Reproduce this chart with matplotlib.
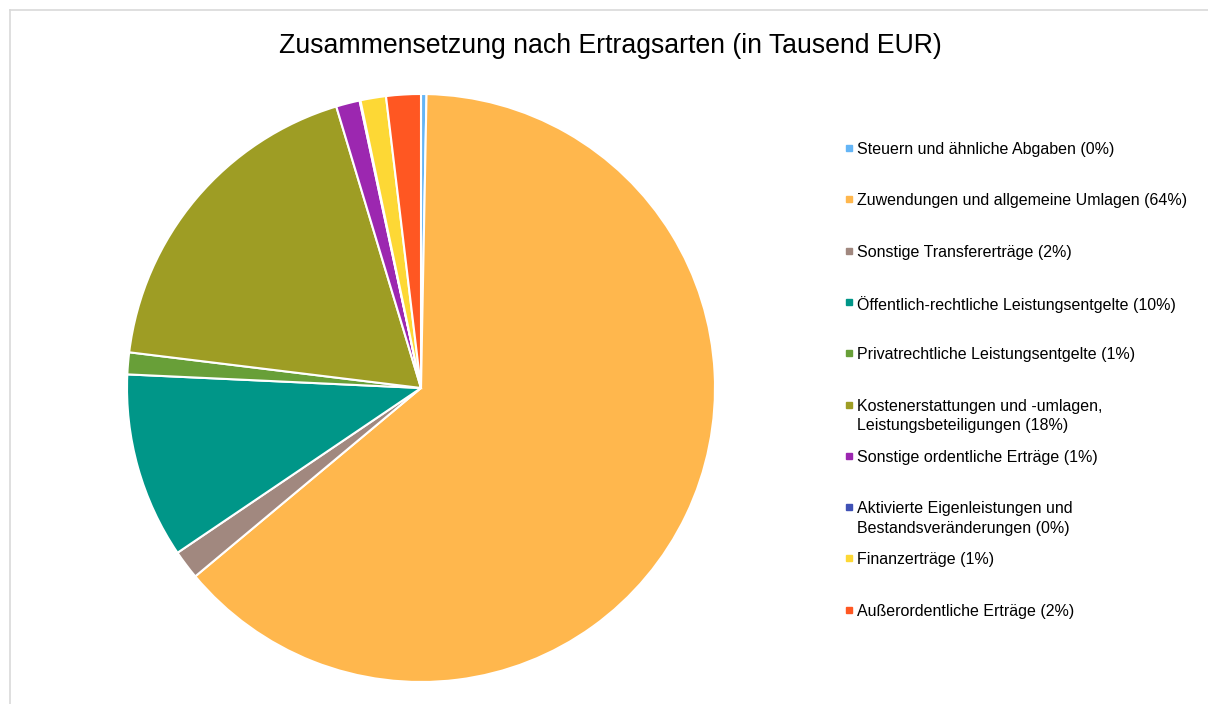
import matplotlib.pyplot as plt
from matplotlib.patches import Rectangle
from matplotlib.lines import Line2D

plt.rcParams['font.family'] = ['Liberation Sans', 'DejaVu Sans']

# Ertragsarten (Anteile)
labels = [
    'Steuern und ähnliche Abgaben (0%)',
    'Zuwendungen und allgemeine Umlagen (64%)',
    'Sonstige Transfererträge (2%)',
    'Öffentlich-rechtliche Leistungsentgelte (10%)',
    'Privatrechtliche Leistungsentgelte (1%)',
    'Kostenerstattungen und -umlagen,\nLeistungsbeteiligungen (18%)',
    'Sonstige ordentliche Erträge (1%)',
    'Aktivierte Eigenleistungen und\nBestandsveränderungen (0%)',
    'Finanzerträge (1%)',
    'Außerordentliche Erträge (2%)',
]
values = [0.3, 63.6, 1.6, 10.2, 1.2, 18.4, 1.3, 0.05, 1.4, 1.9]
colors = ['#64b5f6', '#ffb74d', '#a1887f', '#009688', '#689f38',
          '#9e9d24', '#9c27b0', '#3f51b5', '#fdd835', '#ff5722']

W, H = 1208, 704
fig = plt.figure(figsize=(W / 100, H / 100), dpi=100)

# chart frame
fig.add_artist(Line2D([10 / W, 10 / W], [0, 1 - 10 / H], color='#d9d9d9', lw=1.2))
fig.add_artist(Line2D([10 / W, 1], [1 - 10 / H, 1 - 10 / H], color='#d9d9d9', lw=1.2))

fig.text(610 / W, 1 - 46 / H, 'Zusammensetzung nach Ertragsarten (in Tausend EUR)',
         ha='center', va='center', fontsize=19.2)

# pie
cx, cy, r = 421, 388, 294
ax = fig.add_axes([(cx - r) / W, (H - cy - r) / H, 2 * r / W, 2 * r / H])
ax.pie(values, colors=colors, startangle=90, counterclock=False, radius=1,
       wedgeprops=dict(edgecolor='white', linewidth=1.5))
ax.set_xlim(-1, 1)
ax.set_ylim(-1, 1)
ax.set_aspect('equal')
ax.axis('off')

# legend
for i, (lab, col) in enumerate(zip(labels, colors)):
    y = 148 + i * 51.3
    fig.add_artist(Rectangle((846 / W, 1 - (y + 3) / H), 6 / W, 6 / H,
                             transform=fig.transFigure, color=col))
    fig.text(857 / W, 1 - (y - 6) / H, lab, ha='left', va='top',
             fontsize=11.5, linespacing=1.4)

plt.savefig('out.png', dpi=100)
